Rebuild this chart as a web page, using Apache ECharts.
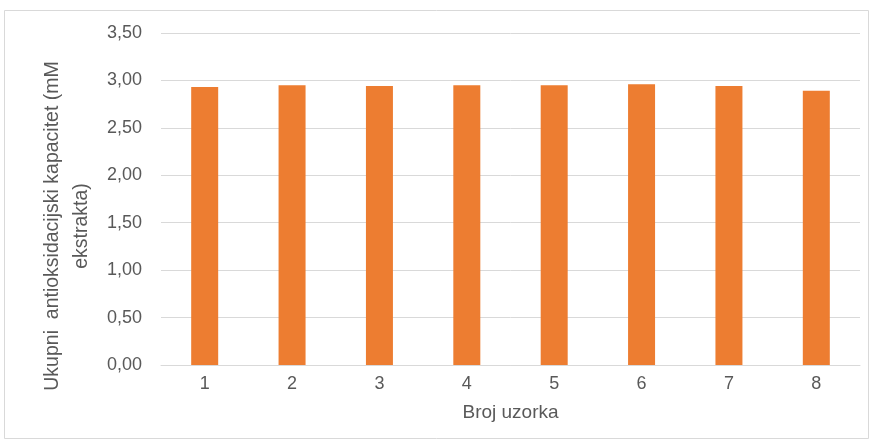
<!DOCTYPE html>
<html>
<head>
<meta charset="utf-8">
<script src="https://cdn.jsdelivr.net/npm/echarts@6/dist/echarts.min.js"></script>
<style>
  html, body { margin: 0; padding: 0; background: #fff; }
  #main { width: 875px; height: 443px; }
</style>
</head>
<body>
<div id="main"></div>
<script>
// data
var samples = ['1', '2', '3', '4', '5', '6', '7', '8'];
var capacity = [2.93, 2.95, 2.94, 2.95, 2.95, 2.96, 2.94, 2.89];
var yTicks = [0, 0.5, 1, 1.5, 2, 2.5, 3, 3.5];

var myChart = echarts.init(document.getElementById('main'));
var font = 'Liberation Sans, Arial, sans-serif';

var option = {
  backgroundColor: '#fff',
  animation: false,
  graphic: [{
    type: 'rect',
    shape: { x: 4.5, y: 10.5, width: 864, height: 428 },
    style: { fill: 'none', stroke: '#d9d9d9', lineWidth: 1 },
    silent: true
  }],
  grid: { left: 161, right: 15, top: 33, bottom: 78 },
  xAxis: {
    type: 'category',
    data: samples,
    name: 'Broj uzorka',
    nameLocation: 'middle',
    nameGap: 38,
    nameTextStyle: { color: '#595959', fontSize: 19, fontFamily: font },
    axisLine: { lineStyle: { color: '#d9d9d9', width: 1 } },
    axisTick: { show: false },
    axisLabel: { color: '#595959', fontSize: 18, fontFamily: font, margin: 10 }
  },
  yAxis: {
    type: 'value',
    min: yTicks[0],
    max: yTicks[yTicks.length - 1],
    interval: 0.5,
    name: 'Ukupni  antioksidacijski kapacitet (mM\nekstrakta)',
    nameLocation: 'middle',
    nameRotate: 90,
    nameGap: 64,
    nameTextStyle: {
      color: '#595959', fontSize: 19.5, fontFamily: font, lineHeight: 29,
      align: 'center', padding: [0, 54, 0, 0]
    },
    axisLine: { show: false },
    axisTick: { show: false },
    splitLine: { lineStyle: { color: '#d9d9d9', width: 1 } },
    axisLabel: {
      color: '#595959', fontSize: 18, fontFamily: font, margin: 19,
      formatter: function (v) { return v.toFixed(2).replace('.', ','); }
    }
  },
  series: [{
    type: 'bar',
    data: capacity,
    barWidth: 27,
    itemStyle: { color: '#ED7D31' }
  }]
};

myChart.setOption(option);
</script>
</body>
</html>
